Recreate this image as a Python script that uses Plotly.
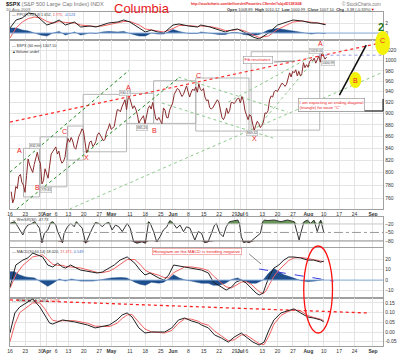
import plotly.graph_objects as go

W, H = 400, 354
FONT = "Liberation Sans, Arial, sans-serif"

# ======================= DATA =======================
# x = trading-day index (0 = Mon 16 Mar 2009), weekends/holidays removed
tick_days = [0, 5, 10, 12, 15, 19, 24, 29, 33, 39, 44, 49, 53, 58, 63, 68, 73, 75, 77,
             82, 87, 92, 97, 102, 107, 112, 118]
tick_labels = ["16", "23", "30", "<b>Apr</b>", "6", "13", "20", "27", "<b>May</b>", "11", "18",
               "25", "<b>Jun</b>", "8", "15", "22", "29", "<b>Jul</b>", "6", "13", "20", "27",
               "<b>Aug</b>", "10", "17", "24", "<b>Sep</b>"]

# $SPX 60-min: an intraday swing value and the close for each trading day
price_mid = [770, 760, 775, 797, 780, 795, 812, 800, 825, 820, 782, 806, 791, 830, 838,
             830, 822, 818, 845, 850, 852, 838, 860, 873, 848, 838, 852, 845, 862,
             862, 852, 868, 882, 875, 893, 906, 912, 925, 928, 918, 914, 898, 888, 896,
             894, 914, 920, 890, 893, 882, 906, 892, 912, 935, 946, 936, 935, 951,
             930, 945, 949, 955, 942, 930, 925, 908, 915, 925, 906, 889, 910, 905, 920,
             922, 928, 931, 905, 889, 895, 870, 886, 875, 885, 900, 925, 930, 943,
             946, 956, 950, 965, 968, 976, 970, 970, 996, 992, 998, 1000, 995, 1009, 1018,
             1003]
price_close = [753, 778, 794, 784, 769, 822, 806, 813, 833, 815, 787, 798, 811, 834, 842,
               835, 815, 825, 856, 858, 841, 852, 865, 869, 832, 850, 843, 851, 866,
               857, 855, 873, 872, 877, 907, 903, 919, 907, 929, 909, 908, 883, 893, 882,
               909, 908, 903, 888, 887, 910, 893, 906, 919, 942, 944, 931, 942, 940,
               939, 942, 939, 944, 946, 923, 911, 910, 918, 921, 893, 895, 900, 920, 918,
               927, 919, 923, 896, 898, 881, 879, 882, 879, 901, 905, 932, 940, 940,
               951, 954, 954, 976, 979, 982, 979, 975, 986, 987, 1002, 1005, 1002, 997, 1010,
               1007]
price_ticks = [760, 780, 800, 820, 840, 860, 880, 900, 920, 940, 960, 980, 1000, 1020]

# PPO(9,90,14)
ppo_days = [0, 2, 4, 6, 8, 10, 12, 14, 16, 18, 21, 23, 26, 28, 30, 32, 35, 37, 39, 42,
            44, 46, 48, 50, 53, 55, 58, 61, 62, 65, 68, 70, 72, 74, 76, 79, 81, 84, 87, 90,
            92, 95, 98, 100, 102.6]
ppo_line = [1.0, 2.6, 3.0, 4.0, 3.8, 2.6, 1.6, 2.0, 2.6, 1.6, 2.2, 1.2, 1.4, 1.2, 1.6,
            2.0, 2.2, 2.6, 2.2, 1.0, 0.2, 0.6, 0.2, 0.0, 1.6, 1.8, 1.4, 1.2, 1.6, 1.2,
            0.6, 0.2, 0.6, 0.8, 0.2, -0.8, -1.2, 0.0, 1.6, 2.2, 2.6, 2.4, 2.0, 2.0, 1.65]
ppo_signal = [-1.0, 1.0, 2.2, 2.9, 3.2, 3.0, 2.3, 2.0, 2.3, 2.1, 2.0, 1.6, 1.4, 1.3, 1.4,
              1.7, 2.0, 2.3, 2.3, 1.6, 0.8, 0.6, 0.4, 0.2, 0.9, 1.5, 1.5, 1.3, 1.4, 1.3,
              0.9, 0.5, 0.5, 0.7, 0.5, -0.3, -0.9, -0.6, 0.7, 1.6, 2.2, 2.4, 2.2, 2.0, 1.78]
ppo_hist = [1.0, 1.0, 0.6, 0.4, 0.0, -0.4, -0.6, 0.0, 0.3, -0.4, 0.2, -0.4, 0.0, -0.1, 0.2,
            0.3, 0.2, 0.3, -0.1, -0.6, -0.6, 0.0, -0.2, -0.2, 0.7, 0.3, -0.1, -0.1, 0.2, -0.1,
            -0.3, -0.3, 0.1, 0.1, -0.3, -0.5, -0.3, 0.6, 0.9, 0.6, 0.4, 0.0, -0.2, 0.0, -0.12]

# Williams %R
wr_days = [0, 1.5, 2.6, 4.2, 4.7, 5.8, 6.9, 8.0, 8.5, 9.6, 10.4, 11.2, 12.3, 13.3, 13.9,
           14.9, 15.5, 17.1, 17.6, 18.7, 19.8, 20.9, 21.6, 22.5, 23.5, 24.6, 25.9, 26.8,
           27.8, 28.9, 30.0, 31.1, 32.2, 33.2, 34.3, 35.4, 36.5, 37.5, 38.1, 39.1, 40.2,
           41.3, 42.9, 44.0, 45.1, 45.6, 46.7, 47.7, 48.8, 49.9, 51.0, 52.0, 53.1, 54.2,
           55.3, 56.4, 57.4, 58.5, 60.1, 61.2, 62.3, 63.3, 64.4, 65.5, 66.5, 67.1, 68.2,
           69.3, 70.3, 71.4, 72.5, 74.1, 74.6, 75.2, 76.0, 76.8, 77.8, 79.5, 80.5, 81.4,
           82.2, 82.7, 83.8, 85.9, 88.1, 90.2, 92.4, 93.5, 94.0, 94.5, 95.6, 96.7, 97.7,
           98.8, 99.9, 101.0, 102.0]
wr_vals = [-18, -12, -30, -59, -41, -24, -20, -12, -18, -35, -86, -53, -41, -15, -12, -24,
           -47, -86, -53, -30, -18, -30, -12, -24, -35, -88, -53, -35, -15, -18, -30, -18,
           -15, -41, -24, -30, -47, -30, -18, -35, -83, -88, -83, -88, -12, -18, -47, -83,
           -65, -41, -30, -8, -18, -35, -24, -47, -30, -35, -77, -47, -53, -86, -83, -53,
           -24, -18, -53, -65, -30, -12, -10, -6, -18, -65, -86, -83, -86, -71, -59, -53,
           -12, -6, -8, -6, -12, -6, -12, -53, -77, -53, -12, -6, -18, -6, -47, -6, -49]

# MACD(30,60,14)
macd_days = [0, 1.9, 4.2, 5.8, 7.4, 10.6, 12.3, 13.9, 15.5, 17.1, 18.1, 19.7, 22.9, 26.8,
             28.4, 30, 32.3, 33.9, 35.8, 38.1, 40.6, 42.3, 43.9, 45.5, 48.4, 50, 51.6, 53.2,
             56.8, 59, 62.3, 64.5, 66.1, 67.7, 69.4, 70.3, 72, 73.5, 75.2, 76.8, 78.4, 80,
             81, 82.3, 83.2, 84.2, 85.8, 87.4, 89, 90.6, 92.3, 94.5, 96.8, 98.7, 101, 102]
macd_line = [-6.7, 14.3, 19, 21, 25.7, 22, 14.3, 12.4, 16, 12.4, 11.4, 14.3, 9.5, 7.6, 6.7,
             7.6, 11.4, 14.3, 19, 22, 16, 9.5, 4.8, 6.7, 1.9, 0, 4.8, 14.3, 12.4, 11.4,
             9.5, 6.7, -1.9, -4.8, -7.6, -9.5, -6.7, -1.9, 0, -2.9, -7.6, -12.4, -14.3,
             -12.4, -4.8, 2.9, 11.4, 14.3, 19, 21.9, 21.9, 21, 19, 19, 17.1, 18.02]
macd_signal = [-8, 5, 14, 18, 22, 24, 19, 15, 14, 14, 13, 12.5, 11.5, 8.5, 7.2, 7, 8.5, 11,
               15, 19.5, 19.5, 15, 9.5, 7, 4.5, 2.5, 2, 7, 12.5, 12.5, 11, 9, 4, -0.5,
               -4.5, -6.5, -7.5, -5, -2, -1.5, -4, -8.5, -11, -13, -10.5, -5, 3.5, 9.5,
               14.5, 18.5, 21, 21.5, 20.5, 19.5, 18, 17.47]
macd_hist_days = [0, 1.5, 3, 5, 8, 10.6, 12.3, 14, 16, 18, 20, 23, 27, 30, 33, 36, 38, 40.6,
                  42.3, 44, 46, 48.4, 50, 52, 53.2, 55, 57, 59, 62.3, 64.5, 66.1, 68, 70,
                  72, 74, 76, 78.4, 80, 82.3, 84.2, 85.8, 87.4, 89, 90.6, 92.3, 94.5, 96.8,
                  99, 102]
macd_hist = [8, 8, 5, 3, 2, -3, -6, -3, 1, -1, 1, -1, -1, 0.5, 2, 2.5, 2, -2, -4, -5, -2,
             -3, -2, 2, 5, 2, 0, -1, -3, -3, -5, -5, -3, 0.5, 2, -1, -3, -3, 0, 7, 11, 8,
             5, 3.5, 1.5, -0.5, -1.5, -1, 0.55]

# TRIX(30,14)
trix_days = [0, 1.6, 3.2, 7.4, 9.7, 11.3, 12.9, 13.9, 15.5, 17.1, 21, 25.2, 27.7, 32.3,
             34.8, 36.5, 38.1, 39.7, 41.9, 43.9, 46.1, 50.3, 52.6, 54.8, 56.8, 59, 61.3,
             62.3, 64.5, 66.5, 68.7, 71, 72.9, 75.2, 76.8, 79, 81, 82.6, 84.2, 85.8, 88.1,
             90.3, 92.3, 94.5, 96.8, 98.7, 101, 102]
trix_line = [-0.005, 0.098, 0.129, 0.17, 0.129, 0.088, 0.046, 0.041, 0.052, 0.062, 0.052,
             0.036, 0.021, 0.036, 0.062, 0.088, 0.098, 0.077, 0.021, -0.005, 0.0, 0.0,
             0.021, 0.062, 0.072, 0.057, 0.046, 0.036, 0.021, -0.015, -0.031, -0.052,
             -0.026, -0.005, -0.026, -0.052, -0.067, -0.052, 0.010, 0.062, 0.098, 0.108,
             0.119, 0.098, 0.077, 0.072, 0.062, 0.052]
trix_signal = [-0.05, 0.04, 0.10, 0.15, 0.15, 0.12, 0.08, 0.06, 0.055, 0.058, 0.058, 0.045,
               0.03, 0.028, 0.045, 0.07, 0.088, 0.09, 0.05, 0.015, 0.0, -0.005, 0.008,
               0.045, 0.068, 0.066, 0.055, 0.045, 0.035, 0.005, -0.02, -0.045, -0.04,
               -0.015, -0.015, -0.04, -0.06, -0.065, -0.02, 0.04, 0.085, 0.105, 0.115,
               0.108, 0.085, 0.075, 0.066, 0.058]

# ---- analyst drawings on the price panel, in (day index, price) ----
wave_boxes = [  # day0, day1, low, high
    (4.4, 9.6, 762, 839.5), (9.8, 18.5, 777.5, 859), (18.7, 23.9, 820, 877.7),
    (23.8, 37.9, 833.8, 935), (37.9, 46.7, 882.4, 936.9), (46.7, 60.4, 882.4, 960.7),
    (60.4, 77.7, 869, 966), (78.4, 100.7, 870.6, 1018),
]
trend_lines = [  # day0, price0, day1, price1, color, dash, width
    (0, 884.7, 121.3, 1037, "#ff2a2a", "dot", 1.2),
    (0, 800.6, 38.7, 981, "#1f8a1f", "dot", 1.0),
    (2.2, 743.8, 54.8, 966, "#1f8a1f", "dot", 1.0),
    (19.4, 743.8, 121.3, 977.5, "#8cc98c", "dot", 1.0),
    (54.8, 967.8, 90.3, 902.6, "#8cc98c", "dot", 1.0),
    (49.4, 918.9, 85.5, 856.9, "#8cc98c", "dot", 1.0),
    (80.6, 876, 99.4, 1005, "#8cc98c", "dot", 1.0),
    (71, 920.8, 98.7, 1011, "#8cc98c", "dot", 1.0),
    (100.3, 1011, 121.3, 1011, "#9a9ae0", "dot", 1.0),
    (107.1, 933.7, 115.8, 1031.7, "#111111", "solid", 1.6),
]
macd_trend = (81, 10.5, 105.2, -1.0)
trix_trend = (0, 0.165, 116.1, 0.098)

# ======================= FIGURE =======================
def PX(x):
    return x / W


def PY(y):
    return 1 - y / H


fig = go.Figure()
NOH = dict(hoverinfo="skip", showlegend=False)

# --- PPO panel ---
fig.add_trace(go.Scatter(x=ppo_days, y=ppo_hist, xaxis="x", yaxis="y", mode="lines",
                         line=dict(width=0.5, color="#1f4e8c"), fill="tozeroy",
                         fillcolor="#1f4e8c", **NOH))
fig.add_trace(go.Scatter(x=ppo_days, y=ppo_signal, xaxis="x", yaxis="y", mode="lines",
                         line=dict(width=1, color="#f06060"), **NOH))
fig.add_trace(go.Scatter(x=ppo_days, y=ppo_line, xaxis="x", yaxis="y", mode="lines",
                         line=dict(width=1, color="#222"), **NOH))

# --- price panel ---
for d0, d1, lo, hi in wave_boxes:
    fig.add_trace(go.Scatter(x=[d0, d1, d1, d0, d0], y=[lo, lo, hi, hi, lo], xaxis="x2",
                             yaxis="y2", mode="lines", line=dict(width=1, color="#b5b5b5"),
                             **NOH))
for d0, p0, d1, p1, col, dash, wd in trend_lines:
    fig.add_trace(go.Scatter(x=[d0, d1], y=[p0, p1], xaxis="x2", yaxis="y2", mode="lines",
                             line=dict(width=wd, color=col, dash=dash), **NOH))
pxs, pys = [], []
for d, (m, c) in enumerate(zip(price_mid, price_close)):
    pxs += [d + 0.4, d + 0.9]
    pys += [m, c]
fig.add_trace(go.Scatter(x=pxs, y=pys, xaxis="x2", yaxis="y2", mode="lines",
                         line=dict(width=1, color="#8a2c2c"), **NOH))

# --- Williams %R panel ---
wr_hi = [max(v, -20) for v in wr_vals]
wr_lo = [min(v, -80) for v in wr_vals]
fig.add_trace(go.Scatter(x=wr_days, y=[-20] * len(wr_days), xaxis="x3", yaxis="y3",
                         mode="lines", line=dict(width=0), **NOH))
fig.add_trace(go.Scatter(x=wr_days, y=wr_hi, xaxis="x3", yaxis="y3", mode="lines",
                         line=dict(width=0), fill="tonexty", fillcolor="#6a975a", **NOH))
fig.add_trace(go.Scatter(x=wr_days, y=[-80] * len(wr_days), xaxis="x3", yaxis="y3",
                         mode="lines", line=dict(width=0), **NOH))
fig.add_trace(go.Scatter(x=wr_days, y=wr_lo, xaxis="x3", yaxis="y3", mode="lines",
                         line=dict(width=0), fill="tonexty", fillcolor="#8c4a4a", **NOH))
fig.add_trace(go.Scatter(x=wr_days, y=wr_vals, xaxis="x3", yaxis="y3", mode="lines",
                         line=dict(width=1, color="#333"), **NOH))

# --- MACD panel ---
fig.add_trace(go.Scatter(x=macd_hist_days, y=macd_hist, xaxis="x4", yaxis="y4", mode="lines",
                         line=dict(width=0.5, color="#1f4e8c"), fill="tozeroy",
                         fillcolor="#1f4e8c", **NOH))
fig.add_trace(go.Scatter(x=[macd_trend[0], macd_trend[2]], y=[macd_trend[1], macd_trend[3]],
                         xaxis="x4", yaxis="y4", mode="lines",
                         line=dict(width=1, color="#3a3ae0", dash="dash"), **NOH))
fig.add_trace(go.Scatter(x=macd_days, y=macd_signal, xaxis="x4", yaxis="y4", mode="lines",
                         line=dict(width=1, color="#f06060"), **NOH))
fig.add_trace(go.Scatter(x=macd_days, y=macd_line, xaxis="x4", yaxis="y4", mode="lines",
                         line=dict(width=1, color="#222"), **NOH))

# --- TRIX panel ---
fig.add_trace(go.Scatter(x=[trix_trend[0], trix_trend[2]], y=[trix_trend[1], trix_trend[3]],
                         xaxis="x5", yaxis="y5", mode="lines",
                         line=dict(width=1.3, color="#ff2020", dash="dot"), **NOH))
fig.add_trace(go.Scatter(x=trix_days, y=trix_signal, xaxis="x5", yaxis="y5", mode="lines",
                         line=dict(width=1, color="#f06060"), **NOH))
fig.add_trace(go.Scatter(x=trix_days, y=trix_line, xaxis="x5", yaxis="y5", mode="lines",
                         line=dict(width=1, color="#222"), **NOH))

# ---------------- axes ----------------
panels = {"": (12, 40), "2": (40, 209), "3": (217, 247), "4": (248, 298), "5": (298, 346)}
tf = dict(size=5, color="#333", family=FONT)
for k, (top, bot) in panels.items():
    fig.update_layout(**{
        "xaxis" + k: dict(domain=[PX(7), PX(383)], range=[0, 121.3], anchor="y" + k,
                          tickvals=tick_days, ticktext=tick_labels, showgrid=True,
                          gridcolor="#e4e4e4", gridwidth=1, zeroline=False, showline=True,
                          linecolor="#a0a0a0", linewidth=1, mirror=True, ticks="",
                          tickangle=0, tickfont=tf, showticklabels=(k in ("2", "5")),
                          matches=None if k == "" else "x"),
        "yaxis" + k: dict(domain=[PY(bot), PY(top)], anchor="x" + k, side="right",
                          showgrid=True, gridcolor="#e4e4e4", zeroline=False, showline=True,
                          linecolor="#a0a0a0", linewidth=1, mirror=True, ticks="",
                          tickangle=0, tickfont=tf),
    })
fig.update_layout(
    yaxis=dict(range=[-1.4, 4.2], tickvals=[0, 2]),
    yaxis2=dict(type="log", range=[2.8715, 3.0179], tickvals=price_ticks),
    yaxis3=dict(range=[-101.4, 4.6], tickvals=[-20, -50, -80], showgrid=False),
    yaxis4=dict(range=[-17.1, 30.5], tickvals=[-10, 0, 10, 20]),
    yaxis5=dict(range=[-0.072, 0.175], tickvals=[-0.05, 0, 0.05, 0.10, 0.15],
                ticktext=["-0.05", "0.00", "0.05", "0.10", "0.15"]),
)

shapes = []
# reference lines
shapes.append(dict(type="line", xref="paper", yref="y", x0=PX(7), x1=PX(383), y0=0, y1=0,
                   line=dict(color="#8fb2de", width=1)))
shapes.append(dict(type="line", xref="paper", yref="y4", x0=PX(7), x1=PX(383), y0=0, y1=0,
                   line=dict(color="#8fb2de", width=1)))
shapes.append(dict(type="line", xref="paper", yref="y3", x0=PX(7), x1=PX(383), y0=-20, y1=-20,
                   line=dict(color="#c8c8c8", width=1)))
shapes.append(dict(type="line", xref="paper", yref="y3", x0=PX(7), x1=PX(383), y0=-50, y1=-50,
                   line=dict(color="#9a9a9a", width=1, dash="dashdot")))
shapes.append(dict(type="line", xref="paper", yref="y3", x0=PX(7), x1=PX(383), y0=-80, y1=-80,
                   line=dict(color="#8a8a8a", width=1)))
# ellipses
shapes.append(dict(type="circle", xref="paper", yref="paper", x0=PX(375), x1=PX(390),
                   y0=PY(55), y1=PY(31), fillcolor="#f4f20a", line=dict(width=0)))
shapes.append(dict(type="circle", xref="paper", yref="paper", x0=PX(349), x1=PX(361),
                   y0=PY(88), y1=PY(72), fillcolor="#f4f20a", line=dict(width=0)))
shapes.append(dict(type="circle", xref="paper", yref="paper", x0=PX(303), x1=PX(332),
                   y0=PY(333), y1=PY(246), line=dict(color="#ff1010", width=1.3)))
# connectors / shadow
shapes.append(dict(type="line", xref="paper", yref="paper", x0=PX(273), y0=PY(62), x1=PX(294),
                   y1=PY(61), line=dict(color="#888", width=1)))
shapes.append(dict(type="line", xref="paper", yref="paper", x0=PX(248), y0=PY(254), x1=PX(260),
                   y1=PY(264), line=dict(color="#888", width=1)))
shapes.append(dict(type="line", xref="paper", yref="paper", x0=PX(383), y0=PY(99), x1=PX(383),
                   y1=PY(111), line=dict(color="#444", width=1.5)))
shapes.append(dict(type="line", xref="paper", yref="paper", x0=PX(298), y0=PY(111), x1=PX(383),
                   y1=PY(111), line=dict(color="#444", width=1.5)))
fig.update_layout(shapes=shapes)


def txt(x, y, s, size=4.5, color="#333", anchor="left", **kw):
    fig.add_annotation(x=PX(x), y=PY(y), xref="paper", yref="paper", text=s, showarrow=False,
                       xanchor=anchor, yanchor="middle",
                       font=dict(size=size, color=color, family=FONT), **kw)


RED = "#e8191e"
# header
txt(1, 4, "<b>$SPX</b> <span style='color:#777'>(S&P 500 Large Cap Index) INDX</span>", 5.5, "#111")
txt(1, 10, "10-Aug-2009", 4.2, "#666")
txt(140, 8, "Columbia", 13, RED, "center")
txt(187, 4, "<b>http://stockcharts.com/def/servlet/Favorites.CServlet?obj=ID1281608</b>", 3.4, RED)
txt(383, 4, "© StockCharts.com", 4.5, "#777", "right")
txt(224, 10, "<b>Open</b> 1008.89  <b>High</b> 1010.12  <b>Low</b> 1000.99  <b>Close</b> 1007.10  "
    "<b>Chg</b> -3.38 (-0.33%)<span style='color:#c00'>▼</span>", 4.0, "#333")
# panel labels
txt(7, 15.5, "— PPO(9,90,14) 1.652, <span style='color:#e44'>1.775,</span> "
    "<span style='color:#36c'>-0.123</span>", 3.8, "#333")
txt(7, 46, "— $SPX (60 min) 1007.10", 3.8, "#333")
txt(7, 51.5, "▲Volume undef", 3.8, "#333")
txt(7, 220, "— Wm%R(30) -47.73", 3.8, "#333")
txt(7, 252, "— MACD(30,60,14) 18.020, <span style='color:#e44'>17.471,</span> "
    "<span style='color:#36c'>0.549</span>", 3.8, "#333")
txt(7, 300.5, "— TRIX(30,14) 0.052, <span style='color:#e44'>0.058</span>", 3.8, "#333")
# wave labels
for x, y, s in [(17, 150, "A"), (35, 187, "B"), (62, 131, "C"), (84, 157, "X"),
                (126, 87, "A"), (153, 130, "B"), (197, 75, "C"), (253, 138, "X"),
                (320, 43, "A")]:
    txt(x, y, s, 7, RED, "center")
# price tags
for x, y, s in [(32, 146.5, "832.98"), (43, 190, "779.81"), (123, 93, "930.17"),
                (140, 128, "881.26"), (251, 133, "869.32"), (315, 50.5, "1018.00"),
                (327, 63, "1000.99")]:
    txt(x, y, s, 3.4, "#555", "center", bgcolor="#f4f4f4", bordercolor="#aaa",
        borderwidth=0.5, borderpad=0.5)
txt(381, 27, "<b>2</b>", 11, "#1d7a1d", "center")
txt(382, 41, "C", 7, RED, "center")
txt(355, 80, "B", 7, RED, "center")
txt(242, 60, "Fib resistance", 4.2, RED, "left", bgcolor="white", bordercolor="#999",
    borderwidth=0.6, borderpad=0.8)
txt(297, 104.5, "I am expecting an ending diagonal<br>(triangle) for wave \"C\"", 4.2, RED,
    "left", align="left", bgcolor="white", bordercolor="#888", borderwidth=0.6, borderpad=1)
txt(150, 251, "Histogram on the MACD is trending negative", 4.4, RED, "left",
    bgcolor="white", bordercolor="#f08080", borderwidth=0.6, borderpad=0.6)

fig.update_layout(width=W, height=H, margin=dict(l=0, r=0, t=0, b=0),
                  paper_bgcolor="white", plot_bgcolor="white", showlegend=False)

fig.write_html("out.html", config={"displayModeBar": False})
